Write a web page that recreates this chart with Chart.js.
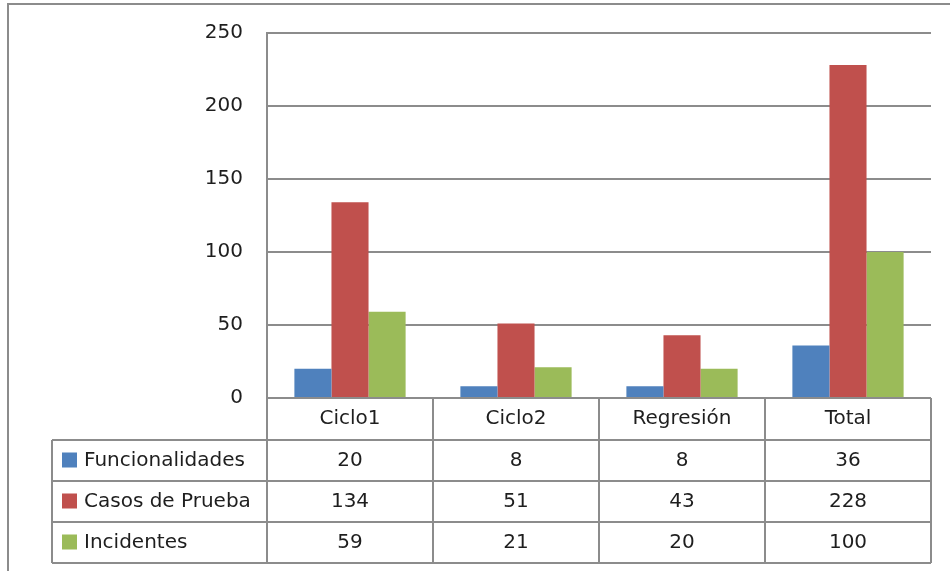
<!DOCTYPE html>
<html>
<head>
<meta charset="utf-8">
<script src="https://cdn.jsdelivr.net/npm/chart.js@4"></script>
<style>
    html, body { margin: 0; padding: 0; background: #fff; }
    #wrap { width: 950px; height: 571px; position: relative; }
</style>
</head>
<body>
<div id="wrap"><canvas id="chart" width="950" height="571"></canvas></div>
<script>
const categories = ['Ciclo1', 'Ciclo2', 'Regresión', 'Total'];
const funcionalidades = [20, 8, 8, 36];
const casosDePrueba = [134, 51, 43, 228];
const incidentes = [59, 21, 20, 100];
const yTicks = [0, 50, 100, 150, 200, 250];

const seriesNames = ['Funcionalidades', 'Casos de Prueba', 'Incidentes'];
const seriesColors = ['#4F81BD', '#C0504D', '#9BBB59'];
const seriesData = [funcionalidades, casosDePrueba, incidentes];

const FONT = '"DejaVu Sans", sans-serif';
const LINE = '#8c8c8c';
const TEXT = '#1e1e1e';

// draws the data table under the plot, plus the outer frame
const dataTable = {
    id: 'dataTable',
    afterDraw(chart) {
        const ctx = chart.ctx;
        const x = chart.scales.x;
        const area = chart.chartArea;
        const left = area.left, right = area.right;
        const headTop = area.bottom;
        const rowH = 41;
        const tableLeft = 52;
        const rowsTop = headTop + 42;
        const bottom = rowsTop + rowH * seriesNames.length;
        const step = (right - left) / categories.length;

        ctx.save();
        ctx.strokeStyle = LINE;
        ctx.lineWidth = 2;

        // frame
        ctx.beginPath();
        ctx.moveTo(8, 571); ctx.lineTo(8, 4); ctx.lineTo(950, 4);
        ctx.stroke();

        ctx.beginPath();
        // horizontal lines
        ctx.moveTo(left, headTop); ctx.lineTo(right, headTop);
        for (let i = 0; i <= seriesNames.length; i++) {
            const yy = rowsTop + i * rowH;
            ctx.moveTo(tableLeft, yy); ctx.lineTo(right, yy);
        }
        // vertical lines
        ctx.moveTo(tableLeft, rowsTop); ctx.lineTo(tableLeft, bottom);
        for (let i = 0; i <= categories.length; i++) {
            const xx = left + i * step;
            ctx.moveTo(xx, headTop); ctx.lineTo(xx, bottom);
        }
        ctx.stroke();

        ctx.fillStyle = TEXT;
        ctx.font = '20px ' + FONT;
        ctx.textBaseline = 'middle';
        ctx.textAlign = 'center';
        categories.forEach((c, i) => {
            ctx.fillText(c, x.getPixelForValue(i), headTop + 21);
        });

        seriesNames.forEach((name, r) => {
            const cy = rowsTop + r * rowH + rowH / 2;
            ctx.fillStyle = seriesColors[r];
            ctx.fillRect(62, cy - 8, 15, 15);
            ctx.fillStyle = TEXT;
            ctx.textAlign = 'left';
            ctx.fillText(name, 84, cy);
            ctx.textAlign = 'center';
            seriesData[r].forEach((v, i) => {
                ctx.fillText(String(v), x.getPixelForValue(i), cy);
            });
        });
        ctx.restore();
    }
};

new Chart(document.getElementById('chart'), {
    type: 'bar',
    data: {
        labels: categories,
        datasets: seriesNames.map((name, i) => ({
            label: name,
            data: seriesData[i],
            backgroundColor: seriesColors[i],
            borderWidth: 0,
            categoryPercentage: 0.67,
            barPercentage: 1
        }))
    },
    options: {
        responsive: false,
        animation: false,
        layout: {
            padding: { top: 33, right: 19, bottom: 165, left: 0 }
        },
        plugins: {
            legend: { display: false },
            tooltip: { enabled: false }
        },
        scales: {
            x: {
                grid: { display: false },
                border: { display: false },
                ticks: { display: false }
            },
            y: {
                min: 0,
                max: 250,
                afterFit: (scale) => {
                    scale.width = 267;
                    scale.paddingTop = 0;
                    scale.paddingBottom = 0;
                },
                afterBuildTicks: (scale) => { scale.ticks = yTicks.map(v => ({ value: v })); },
                grid: { color: LINE, lineWidth: 2, drawTicks: false },
                border: { color: LINE, width: 2 },
                ticks: {
                    padding: 24,
                    color: TEXT,
                    font: { family: FONT, size: 20 }
                }
            }
        }
    },
    plugins: [dataTable]
});
</script>
</body>
</html>
